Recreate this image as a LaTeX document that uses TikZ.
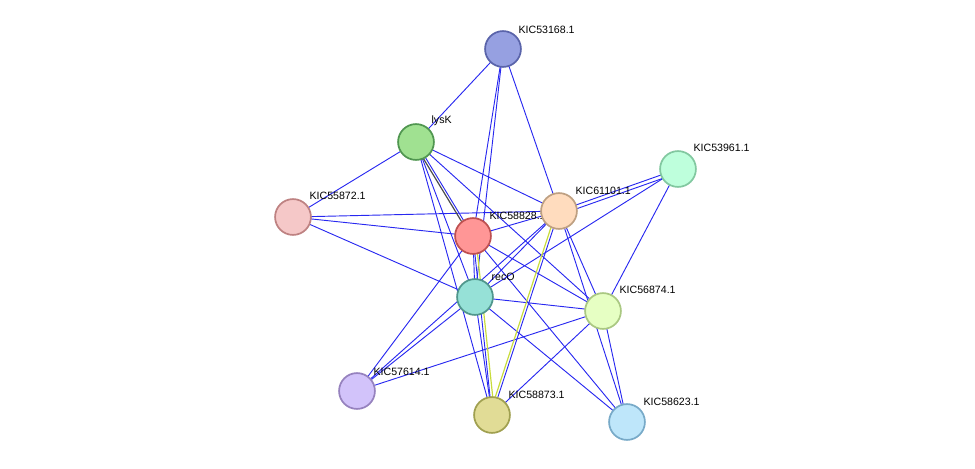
\documentclass[tikz,border=0pt]{standalone}
\usepackage{fontspec}
\setmainfont{Liberation Sans}
\usetikzlibrary{positioning}
\definecolor{edgeblue}{RGB}{40,40,240}
\definecolor{edgeyellow}{RGB}{200,220,60}

\begin{document}
\begin{tikzpicture}[
    x=0.0265cm, y=-0.0265cm,
    prot/.style={circle, minimum size=0.95cm, line width=1.3pt, inner sep=0pt},
    lbl/.style={font=\fontsize{8}{9}\selectfont, inner sep=1pt, anchor=south west},
    link/.style={draw=edgeblue, line width=0.7pt},
    yel/.style={draw=edgeyellow, line width=0.9pt},
    gry/.style={draw=black!70, line width=0.9pt}
]
\useasboundingbox (0,0) rectangle (975,468);

% --- coordinates of the proteins ---
\coordinate (p53168) at (503,49);
\coordinate (plysK)  at (416,142);
\coordinate (p55872) at (293,217);
\coordinate (p58828) at (473,236);
\coordinate (p61101) at (559,211);
\coordinate (p53961) at (678,169);
\coordinate (precO)  at (475,297);
\coordinate (p56874) at (603,311);
\coordinate (p57614) at (357,391);
\coordinate (p58873) at (492,415);
\coordinate (p58623) at (627,422);

% --- edges ---
\foreach \a/\b in {53168/lysK, 53168/58828, 53168/recO, 53168/61101,
    lysK/55872, lysK/58828, lysK/recO, lysK/61101, lysK/56874, lysK/58873,
    55872/58828, 55872/61101, 55872/recO,
    58828/61101, 58828/recO, 58828/56874, 58828/58873, 58828/57614, 58828/58623,
    61101/53961, 61101/recO, 61101/56874, 61101/58873, 61101/57614, 61101/58623,
    53961/recO, 53961/56874,
    recO/56874, recO/57614, recO/58873, recO/58623,
    56874/57614, 56874/58873, 56874/58623}
  \draw[link] (p\a) -- (p\b);
\draw[gry] ([xshift=-2]plysK) -- ([xshift=-2]p58828);
\draw[yel] ([xshift=2]p58828) -- ([xshift=2]p58873);
\draw[yel] ([xshift=-2]p61101) -- ([xshift=-2]p58873);
\draw[link] ([yshift=-3]p61101) -- ([yshift=-3]p53961);

% --- labels ---
\node[lbl] (l53168) at (517,35)  {KIC53168.1};
\node[lbl] (llysK)  at (430,127) {lysK};
\node[lbl] (l55872) at (308,201) {KIC55872.1};
\node[lbl] (l58828) at (488,221) {KIC58828.1};
\node[lbl] (l53961) at (692,153) {KIC53961.1};
\node[lbl] (lrecO)  at (490,282) {recO};
\node[lbl] (l56874) at (618,295) {KIC56874.1};
\node[lbl] (l57614) at (372,377) {KIC57614.1};
\node[lbl] (l58873) at (507,400) {KIC58873.1};
\node[lbl] (l58623) at (642,407) {KIC58623.1};

% --- proteins ---
\node[prot, draw={rgb,255:red,90;green,100;blue,170}, fill={rgb,255:red,150;green,160;blue,225}] (n53168) at (p53168) {};
\node[prot, draw={rgb,255:red,80;green,150;blue,80}, fill={rgb,255:red,160;green,225;blue,145}] (nlysK) at (plysK) {};
\node[prot, draw={rgb,255:red,190;green,130;blue,130}, fill={rgb,255:red,245;green,200;blue,200}] (n55872) at (p55872) {};
\node[prot, draw={rgb,255:red,190;green,80;blue,80}, fill={rgb,255:red,255;green,150;blue,150}] (n58828) at (p58828) {};
\node[prot, draw={rgb,255:red,190;green,160;blue,130}, fill={rgb,255:red,255;green,220;blue,190}] (n61101) at (p61101) {};
\node[lbl] (l61101) at (574,196) {KIC61101.1};
\node[prot, draw={rgb,255:red,130;green,200;blue,160}, fill={rgb,255:red,190;green,255;blue,220}] (n53961) at (p53961) {};
\node[prot, draw={rgb,255:red,80;green,150;blue,140}, fill={rgb,255:red,150;green,225;blue,215}] (nrecO) at (precO) {};
\node[prot, draw={rgb,255:red,170;green,200;blue,130}, fill={rgb,255:red,230;green,255;blue,195}] (n56874) at (p56874) {};
\node[prot, draw={rgb,255:red,150;green,130;blue,190}, fill={rgb,255:red,210;green,195;blue,250}] (n57614) at (p57614) {};
\node[prot, draw={rgb,255:red,160;green,160;blue,80}, fill={rgb,255:red,225;green,220;blue,150}] (n58873) at (p58873) {};
\node[prot, draw={rgb,255:red,120;green,170;blue,200}, fill={rgb,255:red,190;green,230;blue,250}] (n58623) at (p58623) {};
\end{tikzpicture}
\end{document}
